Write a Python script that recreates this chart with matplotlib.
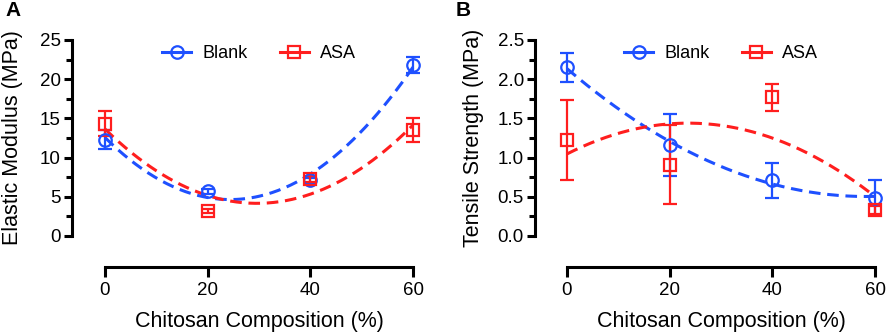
import numpy as np
import matplotlib
matplotlib.use('Agg')
import matplotlib.pyplot as plt
from matplotlib.lines import Line2D
from matplotlib.ticker import MultipleLocator

plt.rcParams['font.family'] = ['Liberation Sans', 'DejaVu Sans']

# datos
chitosan = [0, 20, 40, 60]

modulus_blank = [12.3, 5.7, 7.1, 21.8]
modulus_blank_err = [1.2, 0.3, 0.3, 1.0]
modulus_asa = [14.3, 3.2, 7.3, 13.5]
modulus_asa_err = [1.6, 0.3, 0.4, 1.5]

strength_blank = [2.15, 1.16, 0.71, 0.49]
strength_blank_err = [0.18, 0.40, 0.22, 0.22]
strength_asa = [1.22, 0.91, 1.77, 0.33]
strength_asa_err = [0.51, 0.50, 0.17, 0.05]

BLUE = '#1E50FF'
RED = '#FF1E1E'

fig = plt.figure(figsize=(8.86, 3.35), dpi=100)
W, H = 886, 335


def make_axes(x0, x1, y_top, y_bot):
    return fig.add_axes([x0 / W, (H - y_bot) / H, (x1 - x0) / W, (y_bot - y_top) / H])


def panel(ax, blank, blank_err, asa, asa_err, ylim, major, minor, ylabel, yfmt,
          spine_off, ypad):
    xs = np.linspace(0, 60, 200)
    for vals, err, color, marker in [(blank, blank_err, BLUE, 'o'), (asa, asa_err, RED, 's')]:
        coef = np.polyfit(chitosan, vals, 2)
        ax.plot(xs, np.polyval(coef, xs), color=color, lw=2.2,
                ls=(0, (3.8, 2.2)), clip_on=False, zorder=2)
        ax.errorbar(chitosan, vals, yerr=err, fmt=marker, color=color,
                    mfc='none', mec=color, mew=1.6, ms=9 if marker == 'o' else 8.5,
                    elinewidth=1.6, capsize=5, capthick=1.6, clip_on=False, zorder=3)

    ax.set_xlim(0, 60)
    ax.set_ylim(*ylim)
    ax.set_xticks(chitosan)
    ax.yaxis.set_major_locator(MultipleLocator(major))
    ax.yaxis.set_minor_locator(MultipleLocator(minor))
    ax.yaxis.set_major_formatter(yfmt)

    for s in ['top', 'right']:
        ax.spines[s].set_visible(False)
    ax.spines['left'].set_position(('outward', spine_off))
    ax.spines['bottom'].set_position(('outward', 22.5))
    ax.spines['left'].set_linewidth(2.2)
    ax.spines['bottom'].set_linewidth(2.2)

    ax.tick_params(axis='both', which='major', width=2.2, length=6, labelsize=13.5, pad=2)
    ax.tick_params(axis='y', which='minor', width=2.2, length=4)
    ax.tick_params(axis='x', length=7.5, pad=3)

    ax.set_xlabel('Chitosan Composition (%)', fontsize=15.5, labelpad=9)
    ax.set_ylabel(ylabel, fontsize=15.5, labelpad=ypad)

    handles = [
        Line2D([], [], color=BLUE, lw=2.2, marker='o', ms=9, mfc='none', mew=1.6),
        Line2D([], [], color=RED, lw=2.2, marker='s', ms=8.5, mfc='none', mew=1.6),
    ]
    ax.legend(handles, ['Blank', 'ASA'], loc='center', bbox_to_anchor=(0.5, 0.93),
              ncol=2, frameon=False, fontsize=13, handlelength=1.6,
              handletextpad=0.6, columnspacing=1.8)


# GRAFICO A: modulo elastico
axA = make_axes(105, 413, 40, 236)
panel(axA, modulus_blank, modulus_blank_err, modulus_asa, modulus_asa_err,
      (0, 25), 5, 2.5, 'Elastic Modulus (MPa)', '{x:.0f}', 23.8, 12)

# GRAFICO B: resistencia a la tension
axB = make_axes(567, 875, 40, 236)
panel(axB, strength_blank, strength_blank_err, strength_asa, strength_asa_err,
      (0, 2.5), 0.5, 0.25, 'Tensile Strength (MPa)', '{x:.1f}', 23.0, 10)

fig.text(5 / W, 1 - 11 / H, 'A', fontsize=15, fontweight='bold', va='center', ha='left')
fig.text(456 / W, 1 - 11 / H, 'B', fontsize=15, fontweight='bold', va='center', ha='left')

fig.savefig('out.png', dpi=100)
